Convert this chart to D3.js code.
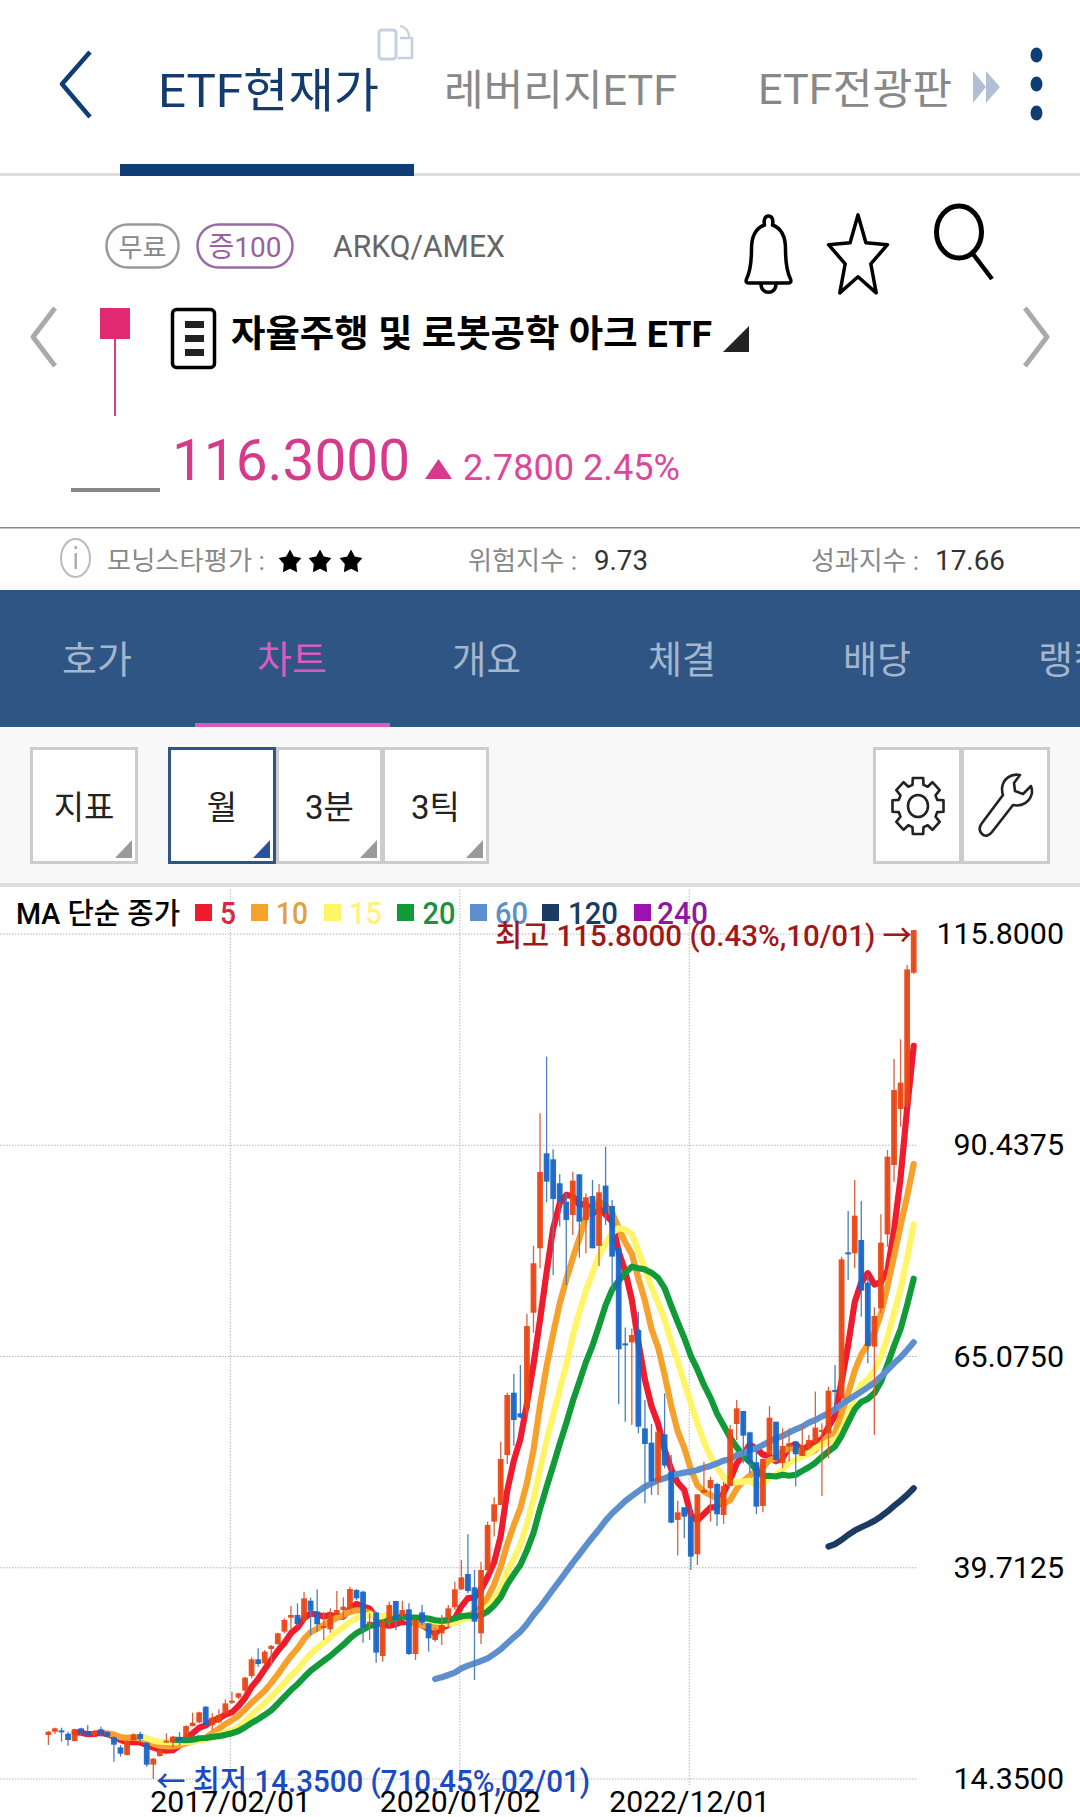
<!DOCTYPE html>
<html lang="ko"><head><meta charset="utf-8">
<script src="https://cdn.jsdelivr.net/npm/d3@7"></script>
<style>html,body{margin:0;padding:0;background:#fff}svg{display:block}text{font-family:Roboto,"Noto Sans CJK KR",sans-serif}</style>
</head><body><svg id="c" width="1080" height="1817"></svg>
<script>
// ---- chart data (monthly candles, 2014/10 .. 2025/10) ----
const opens=[19.63,20.03,20.19,19.79,18.91,20.43,20.11,19.63,20.31,19.99,
19.35,18.15,17.23,19.03,19.75,18.71,16.07,17.11,18.83,18.75,
19.39,19.35,20.71,21.15,23.03,20.83,21.15,22.23,23.51,24.12,
24.96,26.72,28.72,28.24,29.96,30.56,32.04,33.72,34.04,33.44,
35.76,34.44,32.56,32.32,34.04,34.64,34.84,37.04,36.84,32.92,
34.36,29.12,33.24,35.72,34.04,34.72,29.36,34.36,33.04,31.04,
31.84,33.64,34.96,37.12,38.96,37.36,31.84,39.40,45.25,47.25,
53.25,60.73,58.25,58.85,70.33,78.07,89.47,88.75,85.87,83.67,
82.07,86.95,81.47,84.35,78.35,85.59,83.15,78.07,66.65,66.77,
68.25,56.45,54.73,50.05,55.73,51.25,45.45,46.97,45.85,41.33,
48.73,49.25,49.77,46.05,49.53,56.97,58.53,55.97,52.37,47.13,
53.25,57.25,52.26,54.26,54.86,53.14,54.06,54.66,56.06,55.86,
61.06,60.00,77.58,77.46,79.06,73.94,66.26,70.86,79.74,88.07,
94.79,95.47,111.15];
const highs=[20.11,20.51,20.51,20.03,20.39,20.51,20.83,20.23,20.63,20.07,
19.51,18.43,18.99,19.83,20.03,18.83,16.87,17.87,19.83,19.51,
19.99,20.79,22.31,22.43,23.11,22.23,22.71,23.91,24.83,24.71,
26.64,28.96,30.04,29.84,30.44,31.92,33.64,35.12,35.44,36.84,
36.12,37.12,34.44,34.84,36.92,36.16,37.44,37.16,36.96,34.24,
34.44,33.44,35.64,35.76,35.76,35.44,33.52,35.24,33.04,32.44,
34.04,35.24,38.04,40.64,43.72,39.44,40.44,45.25,48.17,54.85,
60.73,62.97,64.05,70.17,78.35,94.27,101.07,89.95,86.95,84.67,
87.27,86.95,84.67,86.27,85.79,90.27,83.87,78.07,68.57,68.45,
70.45,59.85,56.97,56.05,60.65,53.25,47.77,46.97,47.05,48.53,
52.45,50.65,49.93,50.05,56.85,59.85,58.53,56.05,53.85,52.85,
59.13,57.25,56.46,56.46,54.86,56.78,55.66,60.86,57.06,61.46,
64.06,77.06,82.54,86.26,83.74,74.86,70.98,82.14,89.87,100.79,
103.15,112.07,116.30];
const lows=[18.43,19.75,18.83,18.35,18.87,19.63,19.43,19.51,19.43,19.35,
16.43,17.03,17.19,18.95,18.83,15.83,14.35,17.03,18.79,18.03,
18.43,19.31,20.67,21.03,20.75,20.23,21.03,22.15,23.35,23.95,
24.72,26.44,27.84,28.04,28.04,30.44,31.84,32.24,32.64,33.24,
31.64,32.04,31.04,31.92,34.04,33.44,34.64,35.84,30.72,31.04,
28.32,28.44,32.64,32.24,33.84,29.24,28.64,32.84,29.64,30.84,
30.44,32.64,34.64,37.04,36.64,26.24,30.56,39.00,43.45,47.25,
52.17,54.37,57.65,58.00,67.93,75.67,83.59,74.87,80.67,73.67,
79.67,76.95,77.47,78.07,75.95,80.87,73.07,59.33,57.25,56.85,
55.85,47.45,48.45,48.45,51.65,45.05,41.17,43.25,39.45,40.05,
48.65,45.25,44.73,44.97,49.53,55.05,52.25,51.05,46.15,46.37,
53.25,52.25,51.66,52.46,49.46,53.14,53.86,54.66,48.34,52.86,
58.26,59.86,74.26,75.66,69.86,64.26,55.66,70.26,78.26,86.07,
92.67,95.00,111.00];
const closes=[20.03,20.43,19.95,19.03,20.31,19.83,19.55,20.11,19.71,19.43,
18.47,17.39,18.91,19.71,19.15,16.07,16.79,17.79,18.95,19.43,
18.91,20.71,21.11,22.35,20.83,21.71,22.03,23.43,23.75,24.63,
26.52,28.72,28.16,29.64,30.32,31.84,33.44,34.04,32.96,36.04,
34.56,32.92,32.72,34.04,34.64,35.04,37.16,36.04,32.52,33.24,
29.52,33.24,35.24,33.44,34.64,29.36,33.44,33.12,31.24,32.04,
32.84,34.84,37.12,38.56,36.92,33.24,39.44,44.85,47.33,52.77,
60.45,57.45,57.77,68.73,76.27,87.23,86.07,83.99,83.67,81.47,
86.19,81.27,84.19,78.07,84.79,82.27,77.07,65.93,66.55,67.65,
56.65,54.57,50.13,56.05,51.97,45.13,46.37,45.85,41.05,48.53,
49.05,50.25,46.13,49.53,56.33,58.85,55.57,52.25,47.05,52.77,
57.73,52.65,54.34,54.66,53.34,54.38,55.06,56.54,56.26,60.98,
60.86,76.74,77.34,81.98,72.98,66.34,69.94,78.74,89.07,97.07,
97.95,111.55,116.27];
const ma5=[19.95,19.91,19.73,19.77,19.90,19.73,
19.45,19.02,18.78,18.78,18.73,18.45,18.13,17.90,17.75,17.81,
18.37,19.16,19.82,20.50,20.78,21.34,21.61,22.07,22.35,23.11,
24.07,25.41,26.36,27.53,28.67,29.74,30.68,31.86,32.52,33.66,
34.21,34.10,33.84,34.06,33.78,33.87,34.72,35.38,35.08,34.80,
33.70,32.91,32.75,32.94,33.22,33.18,33.22,32.80,32.36,31.84,
32.54,32.82,33.62,35.08,36.06,36.14,37.06,38.60,40.36,43.53,
48.97,52.57,55.15,59.43,64.13,69.49,75.21,80.46,83.45,84.49,
84.28,83.32,83.36,82.24,82.90,82.12,81.28,77.63,75.32,71.89,
66.77,62.27,59.11,57.01,53.87,51.57,49.93,49.07,46.07,45.39,
46.17,46.95,47.00,48.70,50.26,52.22,53.28,54.51,54.01,53.30,
53.07,52.49,52.91,54.23,54.54,53.87,54.36,54.80,55.12,56.64,
57.94,62.08,66.44,71.58,73.98,75.08,73.72,74.00,75.41,80.23,
86.55,94.88,102.38];
const ma10=[19.84,
19.68,19.38,19.28,19.34,19.23,18.95,18.58,18.34,18.27,18.27,
18.41,18.65,18.86,19.13,19.30,19.86,20.39,20.95,21.43,21.95,
22.71,23.51,24.22,24.94,25.89,26.91,28.05,29.11,30.03,31.17,
31.98,32.39,32.85,33.29,33.72,34.04,34.41,34.61,34.57,34.29,
33.79,33.82,34.07,34.01,34.01,33.44,33.07,32.78,32.65,32.53,
32.86,33.02,33.21,33.72,33.95,34.34,34.94,36.11,37.72,39.80,
42.56,44.82,46.88,49.90,53.83,59.23,63.89,67.81,71.44,74.31,
76.89,79.27,81.91,82.85,83.70,83.20,82.30,80.50,78.78,77.40,
74.45,71.78,68.37,66.17,62.88,59.17,56.10,54.09,51.54,49.63,
48.87,48.44,48.04,47.39,47.83,49.20,50.12,50.76,51.36,51.78,
52.65,52.89,53.71,54.12,53.92,53.47,53.43,53.86,54.68,55.59,
55.91,58.22,60.62,63.35,65.31,66.51,67.90,70.22,73.50,77.11,
80.82,84.30,88.19];
const ma15=[19.47,19.27,18.96,18.82,18.81,18.76,
18.76,18.77,18.83,19.01,19.11,19.39,19.63,19.93,20.20,20.57,
21.26,22.06,22.75,23.46,24.19,25.05,25.90,26.76,27.47,28.48,
29.34,30.06,30.69,31.37,32.04,32.61,33.17,33.69,33.89,34.08,
33.93,33.91,33.99,34.03,33.93,33.58,33.62,33.64,33.46,33.29,
33.14,32.98,33.06,33.46,33.71,33.95,34.37,35.01,35.93,37.14,
39.22,40.82,42.46,44.96,47.91,51.53,54.95,58.07,61.08,64.05,
67.58,70.37,72.99,75.04,77.17,78.63,79.94,80.48,80.34,79.76,
77.72,75.62,73.37,71.52,69.55,66.82,64.49,61.94,59.47,57.05,
54.84,53.05,51.73,50.59,49.84,49.99,50.05,50.19,49.59,49.65,
50.49,50.91,51.47,52.31,52.70,53.05,53.38,54.07,54.45,54.83,
54.96,56.31,58.05,60.31,61.72,62.30,63.39,65.08,67.37,70.28,
73.19,76.89,80.94];
const ma20=[19.06,
19.05,19.02,19.07,19.24,19.27,19.41,19.49,19.65,19.85,20.11,
20.56,21.08,21.54,22.04,22.60,23.39,24.22,25.03,25.73,26.56,
27.35,27.95,28.54,29.12,29.81,30.48,31.23,31.86,32.30,32.73,
32.89,33.11,33.46,33.65,33.87,33.74,33.74,33.70,33.61,33.41,
33.33,33.42,33.64,33.87,33.98,33.89,34.01,34.45,35.19,36.17,
37.71,38.92,40.05,41.81,43.89,46.79,49.42,51.96,54.58,57.06,
59.73,62.05,64.40,66.38,68.77,71.22,73.10,74.16,75.11,75.86,
75.67,75.53,75.14,74.51,73.29,71.19,69.20,67.30,65.16,63.52,
61.66,60.11,58.21,56.78,55.36,54.19,53.11,52.43,51.45,50.71,
50.76,50.67,50.88,50.76,50.88,51.34,51.78,52.31,53.02,53.69,
54.28,55.56,57.17,58.74,59.62,59.99,60.67,62.04,64.09,66.35,
68.37,71.26,74.41];
const ma60=[26.36,
26.56,26.84,27.12,27.64,27.96,28.24,28.52,28.84,29.36,29.92,
30.64,31.36,32.04,32.96,34.04,34.97,36.05,37.13,38.17,39.25,
40.33,41.33,42.37,43.37,44.33,45.37,46.25,46.97,47.73,48.33,
48.89,49.45,49.85,50.21,50.45,50.77,50.97,51.13,51.25,51.45,
51.73,51.93,52.25,52.57,52.73,53.25,53.45,53.85,54.05,54.45,
54.86,55.26,55.54,55.94,56.34,56.66,57.14,57.46,57.86,58.26,
58.74,59.34,59.86,60.34,60.86,61.38,61.94,62.66,63.46,64.26,
64.98,65.86,66.78];
const ma120=[42.26,42.54,43.06,43.66,44.18,44.58,44.94,45.34,45.86,46.46,47.14,47.78,48.46,49.26];

const maPeriods=["5","10","15","20","60","120","240"];
const maColors=["#ee1c2e","#f7a12d","#fff566","#119a38","#5d8ece","#1b3b63","#9b12ae"];
const maTextColors=["#d9283b","#e2a13f","#fff27f","#228f3e","#5e8fc8","#1b3b63","#8a1aa0"];
const maStarts=[4,9,14,19,59,119];
const maSeries=[ma5,ma10,ma15,ma20,ma60,ma120];

const yTicks=[115.8,90.4375,65.075,39.7125,14.35];
const xTickIndex=[28,63,98];
const xTickLabels=["2017/02/01","2020/01/02","2022/12/01"];

// ---- page ----
const svg=d3.select("#c");
const NAVY="#0f3d75",BAR="#2f5584",GRAY="#888";
function T(x,y,s,size,color,o={}){
  const t=svg.append("text").attr("x",x).attr("y",y).text(s).attr("font-size",size).attr("fill",color);
  if(o.anchor)t.attr("text-anchor",o.anchor);
  if(o.weight)t.attr("font-weight",o.weight);
  if(o.w)t.attr("textLength",o.w).attr("lengthAdjust","spacingAndGlyphs");
  return t;
}
const R=(x,y,w,h,f,o={})=>svg.append("rect").attr("x",x).attr("y",y).attr("width",w).attr("height",h).attr("fill",f).attr("stroke",o.s||"none").attr("stroke-width",o.sw||0).attr("rx",o.rx||0);
const P=(d,o={})=>svg.append("path").attr("d",d).attr("fill",o.f||"none").attr("stroke",o.s||"none").attr("stroke-width",o.sw||0).attr("stroke-linejoin","round").attr("stroke-linecap",o.cap||"butt");
function starPath(cx,cy,ro,ri,sy=1){let d="";for(let k=0;k<10;k++){const r=k%2?ri:ro,a=-Math.PI/2+k*Math.PI/5;d+=(k?"L":"M")+(cx+r*Math.cos(a)).toFixed(1)+","+(cy+sy*r*Math.sin(a)).toFixed(1);}return d+"Z";}

// header
P("M90,52L62,84L90,117",{s:NAVY,sw:4.5});
T(158,107,"ETF현재가",47,"#123c6e",{w:221});
T(444,105,"레버리지ETF",42,GRAY,{w:233});
T(758,104,"ETF전광판",42,GRAY,{w:194});
R(379,30,17,29,"none",{s:"#c5d0e3",sw:3,rx:3});
P("M400,38h12v20h-14",{s:"#c5d0e3",sw:2.5});
P("M400,26q9,2 9,11",{s:"#c5d0e3",sw:2});
P("M973,71L986,87L973,103Z",{f:"#b0bfd4"});P("M986,71L1000,87L986,103Z",{f:"#b0bfd4"});
[55,84,113].forEach(y=>svg.append("ellipse").attr("cx",1036.5).attr("cy",y).attr("rx",6).attr("ry",7.5).attr("fill",NAVY));
R(0,173,1080,3,"#ddd");R(120,164,294,12,NAVY);

// badges
R(106.5,224.5,72,43,"#fff",{s:"#999",sw:2.5,rx:21});T(142.5,257,"무료",26,"#888",{anchor:"middle"});
R(197.5,224.5,95,43,"#fff",{s:"#9a6aa6",sw:2.5,rx:21});T(245,257,"증100",28,"#9a60a0",{anchor:"middle"});
T(333,257,"ARKQ/AMEX",31,"#666",{w:172});

// bell, star, search
P("M768.5,216c-4,0-5,5-4,9c-11,4-13,14-13,24c0,14-1,22-5,30c-1,3 0,4 2,4h40c2,0 3,-1 2,-4c-4,-8-5,-16-5,-30c0,-10-2,-20-13,-24c1,-4 0,-9-4,-9Z",{f:"#fff",s:"#000",sw:3.5});
P("M761,284c0,11 15,11 15,0",{s:"#000",sw:3.5});
P(starPath(858,258,31,13.5,1.39),{f:"#fff",s:"#000",sw:3.5});
svg.append("ellipse").attr("cx",959).attr("cy",232).attr("rx",22.5).attr("ry",26).attr("fill","none").attr("stroke","#000").attr("stroke-width",5);
P("M973,254L992,279",{s:"#000",sw:4.5});

// nav chevrons, mini candle, doc
P("M55,308L33,337L55,366",{s:"#aaa",sw:5});P("M1025,308L1047,337L1025,366",{s:"#aaa",sw:5});
R(100,308,30,31,"#e22a74");R(114,339,2,77,"#d6407f");
R(172.5,309.5,42,58,"#fff",{s:"#000",sw:3.5,rx:4});
[321,335,349].forEach(y=>R(185,y,19,7,"#222"));
T(231,347,"자율주행 및 로봇공학 아크 ETF",37,"#000",{w:481,weight:700});
P("M749,326V352H723Z",{f:"#222"});
R(71,488,89,4,GRAY);
T(172,480,"116.3000",57,"#d63a8b",{w:238});
P("M438.5,459L452,479H425Z",{f:"#d63a8b"});
T(463,480,"2.7800 2.45%",36,"#d9499b",{w:217});
R(0,527,1080,1.5,GRAY);
svg.append("ellipse").attr("cx",75.5).attr("cy",558).attr("rx",14.5).attr("ry",19).attr("fill","none").attr("stroke","#bbb").attr("stroke-width",2);
R(74.5,553,2.4,16,"#aaa");R(74.5,546,2.4,3,"#aaa");
T(107,570,"모닝스타평가 :",26,GRAY,{w:158});
[290,320,351].forEach(x=>P(starPath(x,562,12,6.5,1.05),{f:"#000"}));
T(468,570,"위험지수 :",26,GRAY,{w:109});T(594,570,"9.73",27,"#333",{w:54});
T(811,570,"성과지수 :",26,GRAY,{w:108});T(935,570,"17.66",27,"#333",{w:70});

// tab bar
R(0,590,1080,137,BAR);
[["호가",62,70],["차트",257,70],["개요",452,69],["체결",648,68],["배당",843,68],["랭킹",1038,70]].forEach((t,i)=>T(t[1],673,t[0],38,i===1?"#d95bc0":"#a4b5ce",{w:t[2]}));
R(195,723,195,4,"#d75bbd");

// toolbar
R(0,727,1080,156,"#f8f8f8");R(0,883,1080,4,"#ddd");
function btn(x,w,label,stroke,tri){
  R(x+1.5,748.5,w-3,114,"#fff",{s:stroke,sw:3});
  if(label)T(x+w/2,819,label,33,"#222",{anchor:"middle"});
  if(tri)P(`M${x+w-6},840V858H${x+w-23}Z`,{f:tri});
}
btn(30,108,"지표","#ccc","#999");
btn(276,107,"3분","#ccc","#999");btn(382,107,"3틱","#ccc","#999");
btn(168,108,"월",BAR,"#2a52a0");
btn(873,89,"","#ccc");btn(961,89,"","#ccc");
(function(){let d="";const cx=918,cy=806,n=8;
 for(let k=0;k<n;k++){const a=k/n*2*Math.PI;[[-.28,20],[-.2,26],[.2,26],[.28,20]].forEach((p,j)=>{const b=a+p[0];d+=(k+j?"L":"M")+(cx+p[1]*Math.sin(b)).toFixed(1)+","+(cy-1.1*p[1]*Math.cos(b)).toFixed(1);});}
 P(d+"Z",{s:"#222",sw:2.6});
 svg.append("ellipse").attr("cx",cx).attr("cy",cy).attr("rx",10).attr("ry",11).attr("fill","none").attr("stroke","#222").attr("stroke-width",2.6);})();
P("M1020,775c-9,-2-17,4-18,13c0,3 0,5 1,7l-21,28c-3,4-3,8 0,11c3,3 7,2 10,-2l21,-27c9,2 17,-3 19,-12c0,-2 0,-5-1,-7l-8,8l-8,-3l-1,-8Z",{s:"#222",sw:2.6});

// ---- chart ----
const x=d3.scaleLinear().domain([0,132]).range([48.4,913.7]);
const y=d3.scaleLinear().domain([14.35,115.8]).range([1779,934]);
const gridOff=1.6;
const G=svg.append("g");
G.selectAll("line.h").data(yTicks).join("line").attr("class","h")
 .attr("x1",0).attr("x2",917).attr("y1",d=>y(d)).attr("y2",d=>y(d))
 .attr("stroke","#b5b5b5").attr("stroke-width",1).attr("stroke-dasharray","1.5 1.5");
G.selectAll("line.v").data(xTickIndex).join("line").attr("class","v")
 .attr("x1",d=>x(d)-gridOff).attr("x2",d=>x(d)-gridOff).attr("y1",890).attr("y2",1785)
 .attr("stroke","#b5b5b5").attr("stroke-width",1).attr("stroke-dasharray","1.5 1.5");

maSeries.forEach((s,k)=>{
  const line=d3.line().x((d,i)=>x(i+maStarts[k])).y(d=>y(d));
  svg.append("path").datum(s).attr("d",line).attr("fill","none").attr("stroke",maColors[k])
   .attr("stroke-width",6.2).attr("stroke-linejoin","round").attr("stroke-linecap","round");
});
const RED="#ea4412",BLUE="#1565c8";
const cand=closes.map((c,i)=>({i,o:opens[i],h:highs[i],l:lows[i],c}));
const gc=svg.append("g");
gc.selectAll("line").data(cand).join("line")
 .attr("x1",d=>x(d.i)).attr("x2",d=>x(d.i)).attr("y1",d=>y(d.h)).attr("y2",d=>y(d.l))
 .attr("stroke",d=>d.c>=d.o?"#d9623e":"#4a7fbe").attr("stroke-width",1.3);
gc.selectAll("rect").data(cand).join("rect")
 .attr("x",d=>x(d.i)-2.9).attr("width",5.8)
 .attr("y",d=>y(Math.max(d.o,d.c))).attr("height",d=>Math.max(2,Math.abs(y(d.o)-y(d.c))))
 .attr("fill",d=>d.c>=d.o?RED:BLUE).attr("fill-opacity",.93);

// legend
T(16,924,"MA 단순 종가",29,"#000",{w:164,weight:500});
const legX=[[195,220,16],[251,276,32],[324,349,33],[397,422.5,33],[470,495,33],[542,568,50],[634,657,51]];
maPeriods.forEach((p,k)=>{R(legX[k][0],904,17,17,maColors[k]);T(legX[k][1],924,p,31,maTextColors[k],{w:legX[k][2],weight:500});});

// annotations
T(495,946,"최고 115.8000 (0.43%,10/01) →",30,"#a01818",{w:417,weight:500});
T(156,1792,"← 최저 14.3500 (710.45%,02/01)",31,"#1a4bc0",{w:434,weight:500});

// axes
const yAxis=d3.axisRight(y).tickValues(yTicks).tickFormat(d3.format(".4f")).tickSize(0).tickPadding(0);
const gy=svg.append("g").attr("transform","translate(1064,0)").call(yAxis);
gy.select(".domain").remove();
gy.selectAll("text").attr("text-anchor","end").attr("font-size",30.4).attr("font-family",'Roboto,sans-serif').attr("fill","#000").attr("dy",null).attr("y",9.5);
const xAxis=d3.axisBottom(x).tickValues(xTickIndex).tickFormat((d,i)=>xTickLabels[i]).tickSize(0).tickPadding(0);
const gx=svg.append("g").attr("transform","translate(-1.8,1812)").call(xAxis);
gx.select(".domain").remove();
gx.selectAll("text").attr("font-size",30.2).attr("font-family",'Roboto,sans-serif').attr("fill","#000").attr("dy",null).attr("y",0);
</script></body></html>
